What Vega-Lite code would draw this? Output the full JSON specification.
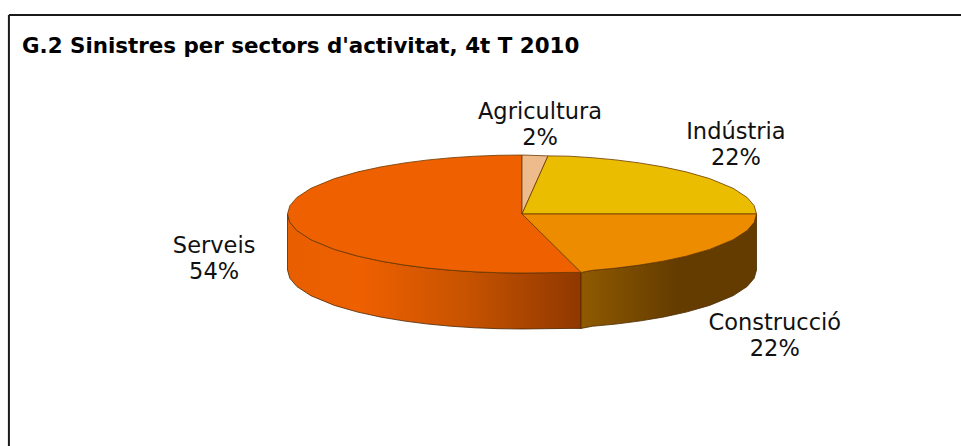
{"$schema":"https://vega.github.io/schema/vega-lite/v6.json","width":961,"height":446,"padding":0,"autosize":{"type":"none"},"background":"white",
"title":{"text":"G.2 Sinistres per sectors d'activitat, 4t T 2010","anchor":"start","frame":"group","orient":"top","offset":-57,"dx":22,"font":"DejaVu Sans","fontSize":21.4,"fontWeight":"bold","color":"black"},
"config":{"view":{"stroke":null}},
"datasets":{
"frame":[{"part":"left","x":-2.188,"x2":-2.188,"y":-3.373,"y2":3.932},{"part":"top","x":-2.188,"x2":1.872,"y":-3.373,"y2":-3.373}],
"walls":[
{"sector":"Serveis","x":-1,"y":0,"y2":0.949},{"sector":"Serveis","x":-0.99,"y":0.141,"y2":1.09},{"sector":"Serveis","x":-0.96,"y":0.28,"y2":1.229},{"sector":"Serveis","x":-0.9,"y":0.436,"y2":1.385},{"sector":"Serveis","x":-0.8,"y":0.6,"y2":1.549},{"sector":"Serveis","x":-0.7,"y":0.714,"y2":1.663},{"sector":"Serveis","x":-0.6,"y":0.8,"y2":1.749},{"sector":"Serveis","x":-0.5,"y":0.866,"y2":1.815},{"sector":"Serveis","x":-0.4,"y":0.917,"y2":1.866},{"sector":"Serveis","x":-0.3,"y":0.954,"y2":1.903},{"sector":"Serveis","x":-0.2,"y":0.98,"y2":1.929},{"sector":"Serveis","x":-0.1,"y":0.995,"y2":1.944},{"sector":"Serveis","x":0,"y":1,"y2":1.949},{"sector":"Serveis","x":0.1,"y":0.995,"y2":1.944},{"sector":"Serveis","x":0.2,"y":0.99,"y2":1.939},{"sector":"Serveis","x":0.252,"y":0.99,"y2":1.939},
{"sector":"Construcció","x":0.252,"y":0.99,"y2":1.939},{"sector":"Construcció","x":0.3,"y":0.954,"y2":1.903},{"sector":"Construcció","x":0.4,"y":0.917,"y2":1.866},{"sector":"Construcció","x":0.5,"y":0.866,"y2":1.815},{"sector":"Construcció","x":0.6,"y":0.8,"y2":1.749},{"sector":"Construcció","x":0.7,"y":0.714,"y2":1.663},{"sector":"Construcció","x":0.8,"y":0.6,"y2":1.549},{"sector":"Construcció","x":0.9,"y":0.436,"y2":1.385},{"sector":"Construcció","x":0.96,"y":0.28,"y2":1.229},{"sector":"Construcció","x":0.99,"y":0.141,"y2":1.09},{"sector":"Construcció","x":1,"y":0,"y2":0.949}],
"faces":[
{"sector":"Serveis","x":-1,"y":0,"y2":0},{"sector":"Serveis","x":-0.99,"y":-0.141,"y2":0.141},{"sector":"Serveis","x":-0.96,"y":-0.28,"y2":0.28},{"sector":"Serveis","x":-0.9,"y":-0.436,"y2":0.436},{"sector":"Serveis","x":-0.8,"y":-0.6,"y2":0.6},{"sector":"Serveis","x":-0.7,"y":-0.714,"y2":0.714},{"sector":"Serveis","x":-0.6,"y":-0.8,"y2":0.8},{"sector":"Serveis","x":-0.5,"y":-0.866,"y2":0.866},{"sector":"Serveis","x":-0.4,"y":-0.917,"y2":0.917},{"sector":"Serveis","x":-0.3,"y":-0.954,"y2":0.954},{"sector":"Serveis","x":-0.2,"y":-0.98,"y2":0.98},{"sector":"Serveis","x":-0.1,"y":-0.995,"y2":0.995},{"sector":"Serveis","x":-0.001,"y":-1,"y2":1},{"sector":"Serveis","x":0,"y":0,"y2":1},{"sector":"Serveis","x":0.1,"y":0.389,"y2":0.995},{"sector":"Serveis","x":0.2,"y":0.786,"y2":0.99},{"sector":"Serveis","x":0.252,"y":0.99,"y2":0.99},
{"sector":"Agricultura","x":0,"y":-1,"y2":0},{"sector":"Agricultura","x":0.111,"y":-0.985,"y2":-0.985},
{"sector":"Indústria","x":0,"y":0,"y2":0},{"sector":"Indústria","x":0.111,"y":-0.985,"y2":0},{"sector":"Indústria","x":0.2,"y":-0.98,"y2":0},{"sector":"Indústria","x":0.3,"y":-0.954,"y2":0},{"sector":"Indústria","x":0.4,"y":-0.917,"y2":0},{"sector":"Indústria","x":0.5,"y":-0.866,"y2":0},{"sector":"Indústria","x":0.6,"y":-0.8,"y2":0},{"sector":"Indústria","x":0.7,"y":-0.714,"y2":0},{"sector":"Indústria","x":0.8,"y":-0.6,"y2":0},{"sector":"Indústria","x":0.9,"y":-0.436,"y2":0},{"sector":"Indústria","x":0.96,"y":-0.28,"y2":0},{"sector":"Indústria","x":0.99,"y":-0.141,"y2":0},{"sector":"Indústria","x":1,"y":0,"y2":0},
{"sector":"Construcció","x":0,"y":0,"y2":0},{"sector":"Construcció","x":0.252,"y":0,"y2":0.99},{"sector":"Construcció","x":0.3,"y":0,"y2":0.954},{"sector":"Construcció","x":0.4,"y":0,"y2":0.917},{"sector":"Construcció","x":0.5,"y":0,"y2":0.866},{"sector":"Construcció","x":0.6,"y":0,"y2":0.8},{"sector":"Construcció","x":0.7,"y":0,"y2":0.714},{"sector":"Construcció","x":0.8,"y":0,"y2":0.6},{"sector":"Construcció","x":0.9,"y":0,"y2":0.436},{"sector":"Construcció","x":0.96,"y":0,"y2":0.28},{"sector":"Construcció","x":0.99,"y":0,"y2":0.141},{"sector":"Construcció","x":1,"y":0,"y2":0}],
"labels":[
{"sector":"Agricultura","share":2,"label":"Agricultura\n2%","x":0.077,"y":-1.729},
{"sector":"Indústria","share":22,"label":"Indústria\n22%","x":0.912,"y":-1.39},
{"sector":"Construcció","share":22,"label":"Construcció\n22%","x":1.078,"y":1.842},
{"sector":"Serveis","share":54,"label":"Serveis\n54%","x":-1.313,"y":0.534}]
},
"layer":[
{"data":{"name":"frame"},"mark":{"type":"rule","color":"#1a1a1a","strokeWidth":2,"clip":true},"encoding":{"x":{"field":"x","type":"quantitative","scale":{"domain":[-2.226,1.872]},"axis":null},"x2":{"field":"x2"},"y":{"field":"y","type":"quantitative","scale":{"domain":[-3.627,3.932],"reverse":true},"axis":null},"y2":{"field":"y2"}}},
{"data":{"name":"walls"},"transform":[{"filter":"datum.sector === 'Serveis'"}],"mark":{"type":"area","stroke":"#4a2400","strokeWidth":0.8,"fill":{"x1":0,"y1":0,"x2":1,"y2":0,"gradient":"linear","stops":[{"offset":0,"color":"#E85F00"},{"offset":0.25,"color":"#EE6000"},{"offset":0.6,"color":"#C85300"},{"offset":1,"color":"#8F3800"}]}},"encoding":{"x":{"field":"x","type":"quantitative","scale":{"domain":[-2.226,1.872]},"axis":null},"y":{"field":"y","type":"quantitative","stack":null,"scale":{"domain":[-3.627,3.932],"reverse":true},"axis":null},"y2":{"field":"y2"}}},
{"data":{"name":"walls"},"transform":[{"filter":"datum.sector === 'Construcció'"}],"mark":{"type":"area","stroke":"#4a2a00","strokeWidth":0.8,"fill":{"x1":0,"y1":0,"x2":1,"y2":0,"gradient":"linear","stops":[{"offset":0,"color":"#8F5A00"},{"offset":0.55,"color":"#643C00"},{"offset":1,"color":"#643C00"}]}},"encoding":{"x":{"field":"x","type":"quantitative","scale":{"domain":[-2.226,1.872]},"axis":null},"y":{"field":"y","type":"quantitative","stack":null,"scale":{"domain":[-3.627,3.932],"reverse":true},"axis":null},"y2":{"field":"y2"}}},
{"data":{"name":"faces"},"mark":{"type":"area","stroke":"#6b3a00","strokeWidth":0.8},"encoding":{"x":{"field":"x","type":"quantitative","scale":{"domain":[-2.226,1.872]},"axis":null},"y":{"field":"y","type":"quantitative","stack":null,"scale":{"domain":[-3.627,3.932],"reverse":true},"axis":null},"y2":{"field":"y2"},"color":{"field":"sector","type":"nominal","legend":null,"scale":{"domain":["Serveis","Agricultura","Indústria","Construcció"],"range":["#EE6000","#EDBB8C","#EBBD00","#EE8C00"]}}}},
{"data":{"name":"labels"},"mark":{"type":"text","font":"DejaVu Sans","fontSize":22.5,"lineBreak":"\n","lineHeight":26,"align":"center","baseline":"middle","color":"#111111"},"encoding":{"x":{"field":"x","type":"quantitative","scale":{"domain":[-2.226,1.872]},"axis":null},"y":{"field":"y","type":"quantitative","scale":{"domain":[-3.627,3.932],"reverse":true},"axis":null},"text":{"field":"label","type":"nominal"}}}
]}
